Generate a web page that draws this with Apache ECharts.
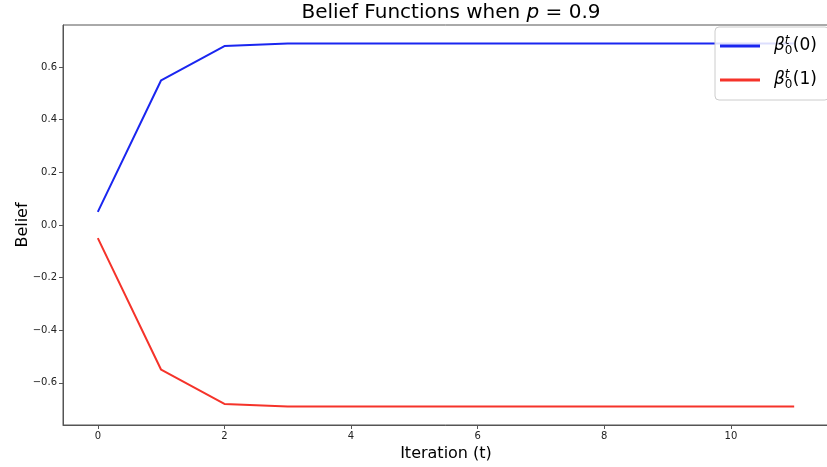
<!DOCTYPE html>
<html>
<head>
<meta charset="utf-8">
<script src="https://cdn.jsdelivr.net/npm/echarts@6/dist/echarts.min.js"></script>
<style>html,body{margin:0;padding:0;background:#fff;}#c{width:827px;height:467px;}</style>
</head>
<body>
<div id="c"></div>
<script>
const iterations = [0, 1, 2, 3, 4, 5, 6, 7, 8, 9, 10, 11];
const belief0 = [0.05, 0.55, 0.68, 0.69, 0.69, 0.69, 0.69, 0.69, 0.69, 0.69, 0.69, 0.69];
const belief1 = [-0.05, -0.55, -0.68, -0.69, -0.69, -0.69, -0.69, -0.69, -0.69, -0.69, -0.69, -0.69];
const xTicks = [0, 2, 4, 6, 8, 10];
const yTicks = [-0.6, -0.4, -0.2, 0.0, 0.2, 0.4, 0.6];
const seriesNames = ['b0', 'b1'];

const font = 'DejaVu Sans';
const chart = echarts.init(document.getElementById('c'), null, {renderer: 'canvas'});
const axisColor = '#555';
const fmtY = v => v.toFixed(1).replace('-', '\u2212');

chart.setOption({
  animation: false,
  backgroundColor: '#fff',
  title: {
    text: '{n|Belief Functions when }{i|p}{n| = 0.9}',
    left: 446, textAlign: 'center', top: -2,
    textStyle: {
      fontWeight: 'normal',
      rich: {
        n: {fontFamily: font, fontSize: 20, fontWeight: 'normal', color: '#000'},
        i: {fontFamily: font, fontSize: 20, fontWeight: 'normal', fontStyle: 'italic', color: '#000'}
      }
    }
  },
  grid: {
    left: 63, top: 25, width: 766, height: 400,
    outerBoundsMode: 'none', containLabel: false,
    show: true, borderColor: axisColor, borderWidth: 1, backgroundColor: 'transparent'
  },
  legend: {
    left: 715, top: 27,
    orient: 'vertical',
    icon: 'rect', itemWidth: 40, itemHeight: 3, itemGap: 12,
    padding: [8, 12, 9, 5],
    borderColor: '#ccc', borderWidth: 1, borderRadius: 4,
    backgroundColor: 'rgba(255,255,255,0.85)',
    data: seriesNames,
    formatter: function (name) {
      const k = name === 'b0' ? '0' : '1';
      return '{b|\u03b2}{sub|0}{sup|t}{p|(' + k + ')}';
    },
    textStyle: {
      padding: [0, 0, 0, 9],
      rich: {
        b: {fontFamily: font, fontSize: 17, color: '#000', fontStyle: 'italic', height: 22},
        p: {fontFamily: font, fontSize: 17, color: '#000', height: 22},
        sub: {fontFamily: font, fontSize: 12, color: '#000', padding: [10, 0, 0, 0], width: 0},
        sup: {fontFamily: font, fontSize: 12, color: '#000', fontStyle: 'italic', padding: [0, 0, 10, 0], width: 8}
      }
    }
  },
  xAxis: {
    type: 'value', min: -0.55, max: 11.55,
    name: 'Iteration (t)', nameLocation: 'middle', nameGap: 21, nameMoveOverlap: false,
    nameTextStyle: {fontFamily: font, fontSize: 16, color: '#000'},
    splitLine: {show: false},
    axisLine: {show: true, onZero: false, lineStyle: {color: axisColor}},
    axisTick: {show: true, length: 4, lineStyle: {color: axisColor}, customValues: xTicks},
    axisLabel: {fontFamily: font, fontSize: 10, color: '#222', margin: 6, customValues: xTicks,
      formatter: v => String(v)}
  },
  yAxis: {
    type: 'value', min: -0.76, max: 0.76,
    name: 'Belief', nameLocation: 'middle', nameGap: 32, nameRotate: 90, nameMoveOverlap: false,
    nameTextStyle: {fontFamily: font, fontSize: 16, color: '#000'},
    splitLine: {show: false},
    axisLine: {show: true, onZero: false, lineStyle: {color: axisColor}},
    axisTick: {show: true, length: 4, lineStyle: {color: axisColor}, customValues: yTicks},
    axisLabel: {fontFamily: font, fontSize: 10, color: '#222', margin: 6, customValues: yTicks,
      formatter: fmtY}
  },
  series: [
    {name: 'b0', type: 'line', data: iterations.map((t, i) => [t, belief0[i]]),
     showSymbol: false, symbol: 'none', color: '#1a26f0', lineStyle: {width: 2, color: '#1a26f0'}, z: 2},
    {name: 'b1', type: 'line', data: iterations.map((t, i) => [t, belief1[i]]),
     showSymbol: false, symbol: 'none', color: '#f5332a', lineStyle: {width: 2, color: '#f5332a'}, z: 2}
  ]
});
</script>
</body>
</html>
